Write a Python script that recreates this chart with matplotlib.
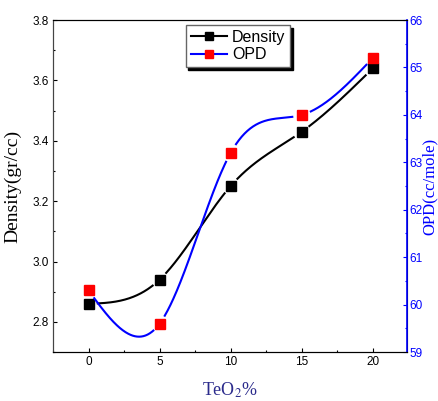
'''TeO2 content vs density and OPD'''

import numpy as np
import matplotlib
matplotlib.use('Agg')
import matplotlib.pyplot as plt

plt.rcParams['font.family'] = ['Liberation Sans', 'DejaVu Sans']
plt.rcParams['mathtext.fontset'] = 'stix'

#%% data

teo2 = [0, 5, 10, 15, 20]
density = [2.86, 2.94, 3.25, 3.43, 3.64]
opd = [60.30, 59.60, 63.20, 64.00, 65.20]


#%% natural cubic spline, like the smooth line of the original

def spline(x, y, xs):
    x = np.asarray(x, float)
    y = np.asarray(y, float)
    n = len(x)
    h = np.diff(x)
    A = np.zeros((n, n))
    b = np.zeros(n)
    A[0, 0] = A[-1, -1] = 1
    for i in range(1, n - 1):
        A[i, i - 1] = h[i - 1]
        A[i, i] = 2 * (h[i - 1] + h[i])
        A[i, i + 1] = h[i]
        b[i] = 6 * ((y[i + 1] - y[i]) / h[i] - (y[i] - y[i - 1]) / h[i - 1])
    M = np.linalg.solve(A, b)
    k = np.clip(np.searchsorted(x, xs) - 1, 0, n - 2)
    t0 = x[k + 1] - xs
    t1 = xs - x[k]
    hk = h[k]
    return (M[k] * t0**3 / (6 * hk) + M[k + 1] * t1**3 / (6 * hk)
            + (y[k] / hk - M[k] * hk / 6) * t0
            + (y[k + 1] / hk - M[k + 1] * hk / 6) * t1)


def gap(ax, xs, ys, x, y, r=9):
    # cut the line near the markers (Origin style)
    pts = ax.transData.transform(np.column_stack([xs, ys]))
    mk = ax.transData.transform(np.column_stack([x, y]))
    d = np.min(np.hypot(pts[:, 0, None] - mk[None, :, 0],
                        pts[:, 1, None] - mk[None, :, 1]), axis=1)
    return np.ma.masked_where(d < r, ys)


#%% plot

fig = plt.figure(figsize=(4.38, 4.01), dpi=100)
ax = fig.add_axes([0.121, 0.122, 0.808, 0.828])
ax2 = ax.twinx()

ax.set_xlim(-2.5, 22.4)
ax.set_ylim(2.7, 3.8)
ax2.set_ylim(59, 66)

xs = np.linspace(teo2[0], teo2[-1], 400)
yd = spline(teo2, density, xs)
yo = spline(teo2, opd, xs)

ax.plot(xs, gap(ax, xs, yd, teo2, density), color='black', lw=1.5)
ax.plot(teo2, density, 's', color='black', ms=7)
ax2.plot(xs, gap(ax2, xs, yo, teo2, opd), color='blue', lw=1.5)
ax2.plot(teo2, opd, 's', color='red', ms=7)

ax.set_xticks([0, 5, 10, 15, 20])
ax.set_xticks(np.arange(-2.5, 22.5, 2.5), minor=True)
ax.set_yticks([2.8, 3.0, 3.2, 3.4, 3.6, 3.8])
ax.set_yticks(np.arange(2.7, 3.81, 0.1), minor=True)
ax2.set_yticks(np.arange(59, 67, 1))
ax2.set_yticks(np.arange(59, 66.01, 0.5), minor=True)

ax.tick_params(which='both', direction='in', labelsize=8.5, pad=3)
ax.tick_params(which='major', length=3, width=0.8)
ax.tick_params(which='minor', length=1.5, width=0.8)
ax2.tick_params(which='both', direction='in', labelsize=8.5, colors='blue', pad=2)
ax2.tick_params(which='major', length=3, width=0.8)
ax2.tick_params(which='minor', length=1.5, width=0.8)

ax2.spines['right'].set_color('blue')
ax2.spines['right'].set_linewidth(1.2)
ax2.spines['left'].set_color('#444444')
ax.spines['left'].set_color('#444444')

ax.set_xlabel('TeO$_2$%', family='Liberation Serif', fontsize=13,
              color='#2b2b8c', labelpad=9)
ax.set_ylabel('Density(gr/cc)', family='Liberation Serif', fontsize=14,
              labelpad=8)
# right label placed by hand so it stays inside the picture
ax2.text(1.065, 0.5, 'OPD(cc/mole)', transform=ax2.transAxes,
         family='Liberation Serif', fontsize=12, color='blue',
         rotation=90, ha='center', va='center')

h1, = ax.plot([], [], '-s', color='black', ms=6, lw=1.5)
h2, = ax.plot([], [], '-s', color='blue', mfc='red', mec='red', ms=6, lw=1.5)
leg = ax2.legend([h1, h2], ['Density', 'OPD'], loc='upper left',
                 bbox_to_anchor=(0.375, 0.985), fontsize=11.5, fancybox=False,
                 shadow={'color': 'black', 'alpha': 1}, framealpha=1,
                 edgecolor='#666666', handlelength=2.3, handletextpad=0.3,
                 borderpad=0.3, labelspacing=0.15, borderaxespad=0)
leg.get_frame().set_linewidth(1)

fig.savefig('out.png', dpi=100)
